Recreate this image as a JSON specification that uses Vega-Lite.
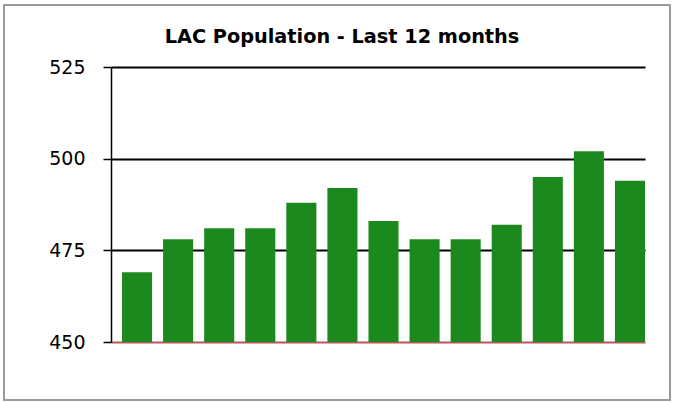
{
  "$schema": "https://vega.github.io/schema/vega-lite/v6.json",
  "width": 666,
  "height": 395,
  "autosize": "none",
  "padding": {"left": 4, "top": 5, "right": 5, "bottom": 2},
  "background": "white",
  "title": {
    "text": "LAC Population - Last 12 months",
    "font": "DejaVu Sans",
    "fontSize": 19.3,
    "fontWeight": "bold",
    "color": "black",
    "anchor": "middle",
    "frame": "group",
    "baseline": "alphabetic",
    "offset": -57,
    "dx": 5
  },
  "config": {
    "view": {"stroke": "#9a9a9a", "strokeWidth": 2}
  },
  "data": {
    "values": [
      {"period": 1, "population": 469},
      {"period": 2, "population": 478},
      {"period": 3, "population": 481},
      {"period": 4, "population": 481},
      {"period": 5, "population": 488},
      {"period": 6, "population": 492},
      {"period": 7, "population": 483},
      {"period": 8, "population": 478},
      {"period": 9, "population": 478},
      {"period": 10, "population": 482},
      {"period": 11, "population": 495},
      {"period": 12, "population": 502},
      {"period": 13, "population": 494}
    ]
  },
  "mark": {"type": "bar", "color": "#1c891e"},
  "encoding": {
    "x": {
      "field": "period",
      "type": "ordinal",
      "scale": {"range": [107, 641], "paddingInner": 0.268, "paddingOuter": 0.134, "align": 1},
      "axis": null
    },
    "y": {
      "field": "population",
      "type": "quantitative",
      "scale": {"domain": [450, 525], "range": [337, 62], "zero": false, "nice": false},
      "axis": {
        "title": null,
        "values": [450, 475, 500, 525],
        "offset": -107,
        "domainColor": "black",
        "domainWidth": 1.5,
        "tickColor": "black",
        "tickWidth": 1.5,
        "tickSize": 8,
        "labelPadding": 18,
        "labelFont": "DejaVu Sans",
        "labelFontSize": 19,
        "labelColor": "black",
        "grid": true,
        "gridColor": {"condition": {"test": "datum.value === 450", "value": "#b8575a"}, "value": "black"},
        "gridWidth": 2,
        "gridOpacity": 1
      }
    },
    "y2": {"datum": 450}
  }
}
